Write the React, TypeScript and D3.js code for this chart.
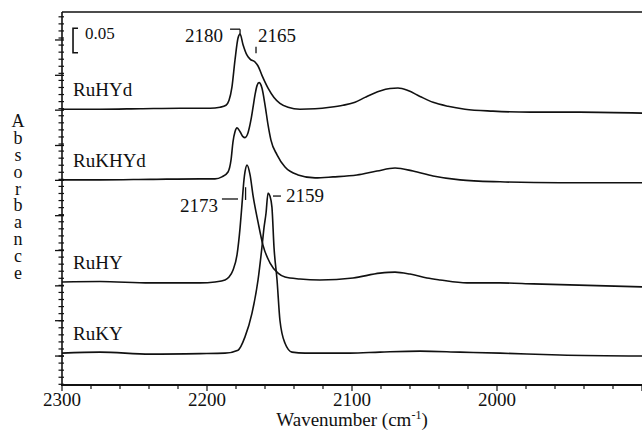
import { useEffect, useRef } from 'react';
import * as d3 from 'd3';

const W = 642;
const H = 431;
const FONT = '"Liberation Serif", "Times New Roman", Times, serif';

// wavenumber (cm-1), absorbance above the trace's own baseline
const ruHYd: [number, number][] = [
  [2300, 0], [2273.8, 0], [2246, 0.001], [2218.6, 0.002], [2197.9, 0.002], [2191, 0.004],
  [2186.9, 0.008], [2184.8, 0.018], [2182.8, 0.045], [2180.7, 0.1], [2178.6, 0.145],
  [2177.2, 0.153], [2175.2, 0.132], [2172.4, 0.11], [2170.3, 0.102], [2166.9, 0.096],
  [2164.8, 0.088], [2162.1, 0.069], [2157.9, 0.043], [2153.8, 0.024], [2149.7, 0.012],
  [2144.1, 0.004], [2135.9, 0], [2125.5, 0.001], [2115.2, 0.004], [2106.2, 0.008],
  [2097.9, 0.014], [2091, 0.024], [2080.7, 0.037], [2073.8, 0.042], [2068.3, 0.043],
  [2061.4, 0.038], [2053.1, 0.026], [2044.1, 0.014], [2033.8, 0.006], [2022.1, 0],
  [2002.8, -0.004], [1977.2, -0.006], [1942.8, -0.006], [1900, -0.008],
];

const ruKHYd: [number, number][] = [
  [2300, 0], [2273.8, 0], [2239.3, 0.001], [2204.8, 0.002], [2194.5, 0.002], [2189.7, 0.006],
  [2185.5, 0.016], [2183.4, 0.041], [2182.1, 0.077], [2180.7, 0.098], [2179.3, 0.106],
  [2177.2, 0.098], [2175.2, 0.088], [2173.8, 0.086], [2171.7, 0.096], [2169.7, 0.122],
  [2168.3, 0.147], [2166.9, 0.173], [2165.5, 0.192], [2164.1, 0.198], [2162.1, 0.187],
  [2160, 0.153], [2157.9, 0.112], [2155.9, 0.081], [2151.7, 0.051], [2146.2, 0.026],
  [2137.2, 0.01], [2125.5, 0.004], [2113.1, 0.006], [2096.6, 0.01], [2082.8, 0.018],
  [2070.3, 0.024], [2057.9, 0.018], [2044.1, 0.008], [2025.5, 0], [1997.9, -0.004],
  [1956.6, -0.006], [1900, -0.006],
];

const ruHY: [number, number][] = [
  [2300, 0], [2273.8, 0.001], [2239.3, -0.002], [2204.8, -0.002], [2194.5, 0], [2187.6, 0.004],
  [2184.8, 0.01], [2182.1, 0.024], [2179.3, 0.055], [2177.2, 0.11], [2175.9, 0.157],
  [2174.5, 0.208], [2173.8, 0.224], [2172.4, 0.238], [2170.3, 0.218], [2168.3, 0.177],
  [2164.8, 0.122], [2161.4, 0.075], [2156.6, 0.039], [2151, 0.018], [2146.2, 0.01],
  [2135.9, 0.006], [2122.1, 0.004], [2099.3, 0.008], [2080.7, 0.018], [2070.3, 0.02],
  [2060, 0.016], [2048.3, 0.008], [2039.3, 0.004], [2020.7, -0.002], [1997.9, -0.002],
  [1975, -0.004], [1900, -0.01],
];

const ruKY: [number, number][] = [
  [2300, 0], [2273.8, 0.002], [2239.3, -0.002], [2204.8, -0.001], [2187.6, 0], [2178.6, 0.006],
  [2173.8, 0.033], [2169, 0.081], [2164.8, 0.149], [2162.1, 0.216], [2160.7, 0.255],
  [2159.3, 0.285], [2157.9, 0.326], [2156.6, 0.32], [2155.2, 0.297], [2153.8, 0.216],
  [2151.7, 0.149], [2149.7, 0.067], [2146.2, 0.02], [2141.4, 0.002], [2132.4, 0],
  [2101.4, 0], [2080.7, 0.002], [2053.1, 0.004], [2025.5, 0.002], [1997.9, 0],
  [1956.6, -0.004], [1900, -0.006],
];

const seriesNames = ['RuHYd', 'RuKHYd', 'RuHY', 'RuKY'];
const seriesOffsets = [0.562, 0.418, 0.21, 0.065];
const seriesData = [ruHYd, ruKHYd, ruHY, ruKY];

const xTickLabels = [2300, 2200, 2100, 2000];
const yMajorTicks = [0.059, 0.131, 0.202, 0.274, 0.345, 0.417, 0.488, 0.56, 0.631, 0.703];

// peak labels: text position (wavenumber, absorbance) and anchor
const peakLabels = [
  { text: '2180', w: 2189.0, a: 0.699, anchor: 'end' },
  { text: '2165', w: 2164.8, a: 0.699, anchor: 'start' },
  { text: '2173', w: 2192.4, a: 0.352, anchor: 'end' },
  { text: '2159', w: 2145.5, a: 0.373, anchor: 'start' },
];
// marker strokes next to the labels: [w1, a1, w2, a2]
const peakMarks: [number, number, number, number][] = [
  [2184.1, 0.725, 2177.2, 0.725], [2177.2, 0.725, 2177.2, 0.714],
  [2166.2, 0.689, 2166.2, 0.676],
  [2189.7, 0.379, 2178.6, 0.379], [2173.4, 0.403, 2173.4, 0.377],
  [2154.5, 0.385, 2149.0, 0.385],
];

const scaleBar = { w: 2292.4, top: 0.727, size: 0.05, label: '0.05' };

export default function App() {
  const svgRef = useRef<SVGSVGElement>(null);

  useEffect(() => {
    const svg = d3.select(svgRef.current);
    svg.selectAll('*').remove();

    const x = d3.scaleLinear().domain([2300, 1900]).range([62, 642]);
    const y = d3.scaleLinear().domain([0, 0.76]).range([385, 12]);

    const txt = (sel: any, size = 19) =>
      sel.style('font-family', FONT).style('font-size', `${size}px`).attr('fill', '#111');

    // frame
    svg.append('line').attr('x1', 62).attr('x2', W).attr('y1', 12).attr('y2', 12)
      .attr('stroke', '#111').attr('stroke-width', 1.5);
    svg.append('line').attr('x1', 62).attr('x2', 62).attr('y1', 12).attr('y2', 385.5)
      .attr('stroke', '#111').attr('stroke-width', 1.6);
    svg.append('line').attr('x1', 61).attr('x2', W).attr('y1', 385).attr('y2', 385)
      .attr('stroke', '#111').attr('stroke-width', 2);

    // x ticks every 20 cm-1, pointing down
    const xt = d3.range(2300, 1899, -20);
    svg.append('g').selectAll('line').data(xt).join('line')
      .attr('x1', d => x(d)).attr('x2', d => x(d))
      .attr('y1', 385).attr('y2', d => (d % 100 === 0 ? 391 : 389))
      .attr('stroke', '#111').attr('stroke-width', 1.2);
    txt(svg.append('g').selectAll('text').data(xTickLabels).join('text')
      .attr('x', d => x(d)).attr('y', 406)
      .attr('text-anchor', 'middle'))
      .text(d => d);

    // y ticks (arbitrary, 5 subdivisions)
    const step = (yMajorTicks[1] - yMajorTicks[0]) / 5;
    const minor: number[] = [];
    for (let v = yMajorTicks[0] - 4 * step; v < 0.76; v += step) minor.push(v);
    svg.append('g').selectAll('line').data(minor).join('line')
      .attr('x1', 58.5).attr('x2', 64).attr('y1', d => y(d)).attr('y2', d => y(d))
      .attr('stroke', '#111').attr('stroke-width', 1.2);
    svg.append('g').selectAll('line').data(yMajorTicks).join('line')
      .attr('x1', 55).attr('x2', 64).attr('y1', d => y(d)).attr('y2', d => y(d))
      .attr('stroke', '#111').attr('stroke-width', 1.3);

    // traces
    seriesData.forEach((pts, i) => {
      const line = d3.line<[number, number]>()
        .x(d => x(d[0]))
        .y(d => y(d[1] + seriesOffsets[i]))
        .curve(d3.curveMonotoneX);
      svg.append('path').attr('d', line(pts))
        .attr('fill', 'none').attr('stroke', '#111').attr('stroke-width', 1.6)
        .attr('stroke-linejoin', 'round');
      txt(svg.append('text')
        .attr('x', x(2292.4)).attr('y', y(seriesOffsets[i] + 0.026)))
        .text(seriesNames[i]);
    });

    // peak annotations
    txt(svg.append('g').selectAll('text').data(peakLabels).join('text')
      .attr('x', d => x(d.w)).attr('y', d => y(d.a))
      .attr('text-anchor', d => d.anchor))
      .text(d => d.text);
    svg.append('g').selectAll('line').data(peakMarks).join('line')
      .attr('x1', d => x(d[0])).attr('y1', d => y(d[1]))
      .attr('x2', d => x(d[2])).attr('y2', d => y(d[3]))
      .attr('stroke', '#111').attr('stroke-width', 1.3);

    // 0.05 scale bar
    const bx = x(scaleBar.w);
    const bt = y(scaleBar.top);
    const bb = y(scaleBar.top - scaleBar.size);
    svg.append('path')
      .attr('d', `M${bx + 5},${bt} H${bx} V${bb} H${bx + 5}`)
      .attr('fill', 'none').attr('stroke', '#111').attr('stroke-width', 1.6);
    txt(svg.append('text').attr('x', bx + 12).attr('y', bt + 11), 17)
      .text(scaleBar.label);

    // axis titles
    const title = txt(svg.append('text').attr('x', 352).attr('y', 426)
      .attr('text-anchor', 'middle'));
    title.append('tspan').text('Wavenumber (cm');
    title.append('tspan').style('font-size', '12px').attr('dy', -7).text('-1');
    title.append('tspan').attr('dy', 7).text(')');

    // stacked upright letters as one vertical text, squeezed to the reference pitch
    txt(svg.append('text').attr('x', 18).attr('y', 111), 18)
      .attr('textLength', 172)
      .attr('lengthAdjust', 'spacing')
      .style('writing-mode', 'vertical-rl')
      .style('text-orientation', 'upright')
      .text('Absorbance');
  }, []);

  return (
    <svg
      ref={svgRef}
      width={W}
      height={H}
      style={{ position: 'absolute', left: 0, top: 0, background: '#fff' }}
    />
  );
}
